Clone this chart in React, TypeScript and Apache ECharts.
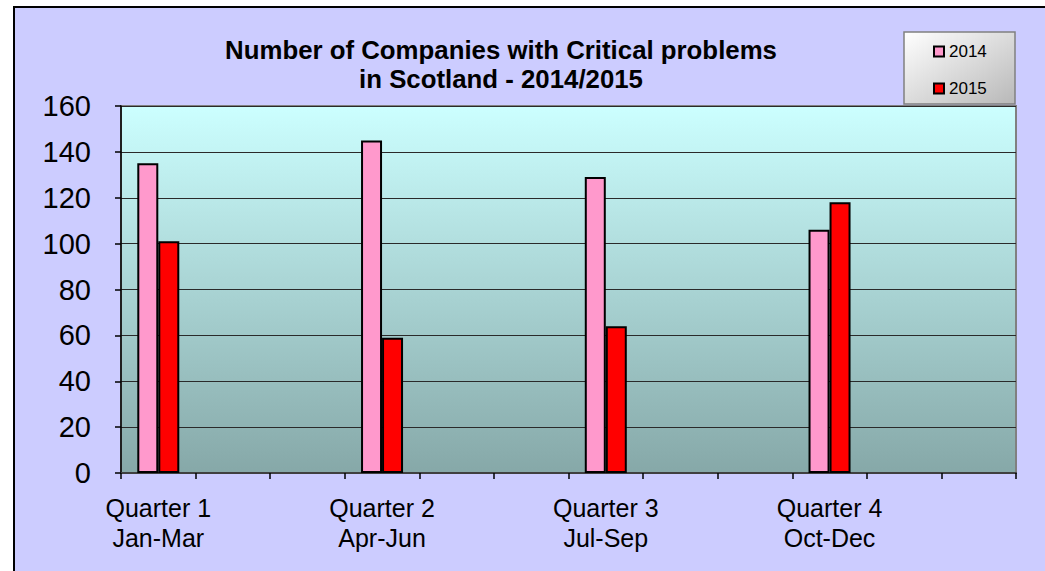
import React, { useEffect, useRef } from "react";
import * as echarts from "echarts";

const quarters = ["Quarter 1\nJan-Mar", "Quarter 2\nApr-Jun", "Quarter 3\nJul-Sep", "Quarter 4\nOct-Dec"];
const seriesNames = ["2014", "2015"];
const values2014 = [135, 145, 129, 106];
const values2015 = [101, 59, 64, 118];
const slotsPerQuarter = 3;
const yMin = 0;
const yMax = 160;
const yInterval = 20;
const titleText = "Number of Companies with Critical problems\nin Scotland - 2014/2015";

const FONT = "'Liberation Sans', Arial, Helvetica, sans-serif";

function buildSlots() {
  const cats: string[] = [];
  quarters.forEach((q, qi) => {
    for (let s = 0; s < slotsPerQuarter; s++) {
      cats.push(s === 0 ? q : `slot-${qi}-${s}`);
    }
  });
  return cats;
}

function spread(values: number[]) {
  const out: (number | null)[] = [];
  values.forEach((v) => {
    for (let s = 0; s < slotsPerQuarter; s++) out.push(s === 0 ? v : null);
  });
  return out;
}

export default function App() {
  const ref = useRef<HTMLDivElement>(null);
  useEffect(() => {
    document.body.style.overflow = "hidden";
    const chart = echarts.init(ref.current!, null, { renderer: "svg" });
    const categories = buildSlots();
    chart.setOption({
      animation: false,
      backgroundColor: "#CCCCFF",
      graphic: [
        {
          type: "rect",
          shape: { x: 889, y: 24, width: 111, height: 72 },
          style: {
            fill: new echarts.graphic.LinearGradient(0, 0, 1, 1, [
              { offset: 0, color: "#FFFFFF" },
              { offset: 1, color: "#B8B8B8" },
            ]),
            stroke: "#808080",
            lineWidth: 1.5,
          },
          z: 0,
        },
        {
          type: "text",
          x: 486,
          y: 27,
          style: {
            text: titleText,
            font: `bold 25.8px ${FONT}`,
            lineHeight: 29,
            textAlign: "center",
            textVerticalAlign: "top",
            fill: "#000",
          },
        },
      ],
      legend: {
        data: seriesNames,
        orient: "vertical",
        left: 918,
        top: 35,
        padding: 0,
        itemWidth: 10,
        itemHeight: 10,
        itemGap: 20,
        icon: "rect",
        textStyle: { fontSize: 17, fontFamily: FONT, color: "#000", lineHeight: 16 },
        z: 5,
      },
      grid: {
        left: 106,
        top: 98,
        width: 895,
        height: 367,
        show: true,
        borderColor: "#808080",
        borderWidth: 2,
        backgroundColor: new echarts.graphic.LinearGradient(0, 0, 0, 1, [
          { offset: 0, color: "#CCFFFF" },
          { offset: 1, color: "#86A8A8" },
        ]),
      },
      xAxis: {
        type: "category",
        data: categories,
        boundaryGap: true,
        axisLine: { lineStyle: { color: "#404040", width: 2 } },
        axisTick: { show: true, interval: 0, length: 6, lineStyle: { color: "#000", width: 1.5 } },
        axisLabel: {
          interval: 0,
          margin: 20,
          fontSize: 25,
          lineHeight: 30,
          fontFamily: FONT,
          color: "#000",
          formatter: (v: string) => (v.startsWith("slot-") ? "" : v),
        },
        splitLine: { show: false },
      },
      yAxis: {
        type: "value",
        min: yMin,
        max: yMax,
        interval: yInterval,
        axisLine: { show: true, lineStyle: { color: "#000", width: 1.5 } },
        axisTick: { show: true, length: 6, lineStyle: { color: "#000", width: 1.5 } },
        axisLabel: { fontSize: 29, fontFamily: FONT, color: "#000", margin: 30 },
        splitLine: { show: true, lineStyle: { color: "#2a2a2a", width: 1 } },
      },
      series: [
        {
          name: seriesNames[0],
          type: "bar",
          data: spread(values2014),
          barWidth: 21,
          barGap: "0%",
          itemStyle: { color: "#FF99CC", borderColor: "#000", borderWidth: 2 },
        },
        {
          name: seriesNames[1],
          type: "bar",
          data: spread(values2015),
          barWidth: 21,
          barGap: "0%",
          itemStyle: { color: "#FF0000", borderColor: "#000", borderWidth: 2 },
        },
      ],
    });
    return () => chart.dispose();
  }, []);
  return (
    <div
      style={{
        position: "fixed",
        left: 13,
        top: 6,
        borderLeft: "2px solid #000",
        borderTop: "2px solid #000",
        background: "#fff",
      }}
    >
      <div ref={ref} style={{ width: 1030, height: 563 }} />
    </div>
  );
}
